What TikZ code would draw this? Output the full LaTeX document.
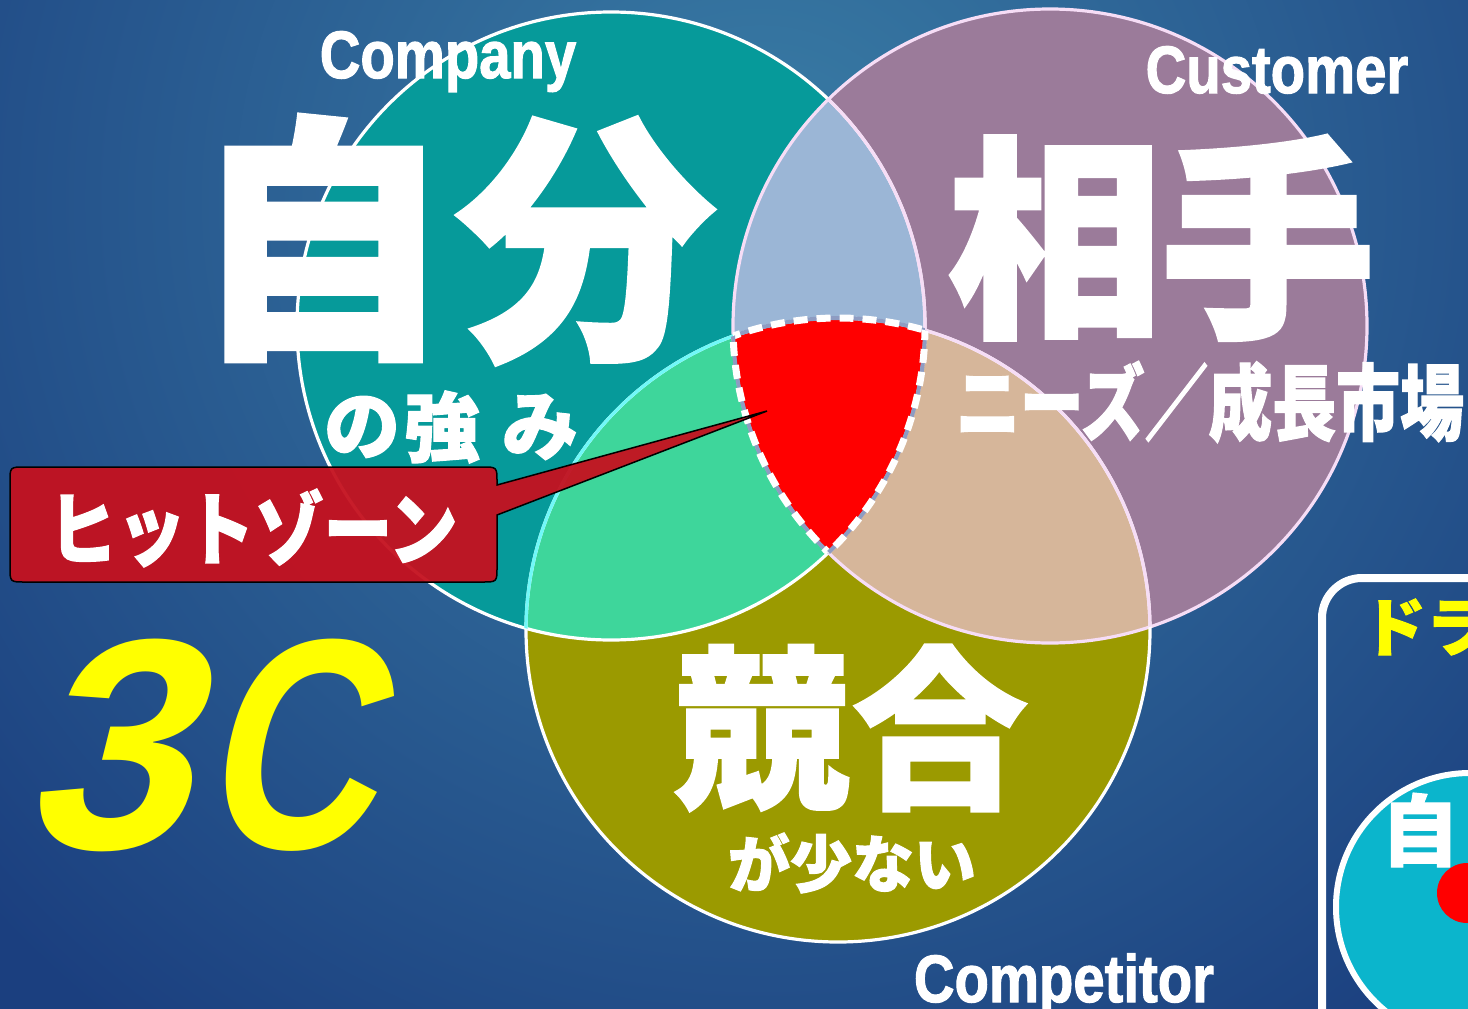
\documentclass[tikz,border=0pt]{standalone}
\usepackage{fontspec}
\setmainfont{Liberation Sans}
\newfontfamily\jp{Noto Sans CJK JP}[FakeBold=1.6]
\newfontfamily\heavysans{Liberation Sans}[FakeBold=1.8]
\newfontfamily\threecfont{Liberation Sans}[FakeSlant=0.25]
\definecolor{bgdark}{HTML}{1B3F7F}
\definecolor{bglight}{HTML}{3A7EA6}
\definecolor{cteal}{HTML}{069A9A}
\definecolor{cpurp}{HTML}{9B7B9A}
\definecolor{colive}{HTML}{9B9A00}
\definecolor{cblue}{HTML}{9BB6D6}
\definecolor{cgreen}{HTML}{3ED69B}
\definecolor{ctan}{HTML}{D6B69A}
\definecolor{hitred}{HTML}{C5111F}
\definecolor{ccyan}{HTML}{0BB5CC}
\definecolor{cyanline}{HTML}{70F8F8}
\definecolor{pinkline}{HTML}{F6DDF6}
\definecolor{shadowline}{HTML}{8E9CC2}
\definecolor{yel}{HTML}{FFFF00}
\begin{document}
\begin{tikzpicture}[x=1pt,y=-1pt,
  jptext/.style={text=white, inner sep=0pt},
  lattext/.style={text=white, inner sep=0pt, anchor=base, font=\heavysans\fontsize{67}{67}\selectfont\bfseries},
  ring/.style={line width=3.2pt},
  hitbase/.style={draw=shadowline, line width=4pt},
  hitedge/.style={draw=white, line width=7pt, dash pattern=on 14pt off 9pt},
  ]
\useasboundingbox (0,0) rectangle (1468,1009);
\clip (0,0) rectangle (1468,1009);
% background
\fill[bgdark] (0,0) rectangle (1468,1009);
\shade[inner color=bglight, outer color=bgdark] (760,200) circle[radius=1050];

\def\compC{(611,326) circle[radius=314]}
\def\custC{(1050,326) circle[radius=317]}
\def\compeC{(838,630) circle[radius=312]}

% circle fills
\fill[cteal] \compC;
\fill[cpurp] \custC;
\fill[colive] \compeC;
\begin{scope}
  \clip \compC;
  \fill[cblue] \custC;
  \fill[cgreen] \compeC;
\end{scope}
\begin{scope}
  \clip \custC;
  \fill[ctan] \compeC;
\end{scope}
\begin{scope}
  \clip \compC; \clip \custC;
  \fill[red] \compeC;
\end{scope}

% outlines
\draw[ring, white] \compC;
\draw[ring, pinkline] \custC;
\draw[ring, white] \compeC;
\begin{scope}
  \clip \compC;
  \draw[ring, cyanline] \compeC;
\end{scope}
\begin{scope}
  \clip \custC;
  \draw[ring, pinkline] \compeC;
  \draw[ring, pinkline] \compC;
\end{scope}

% hit zone border
\begin{scope}
  \clip \compC; \clip \custC;
  \draw[hitbase] \compeC;
  \draw[hitedge] \compeC;
\end{scope}
\begin{scope}
  \clip \compC; \clip \compeC;
  \draw[hitbase] \custC;
  \draw[hitedge] \custC;
\end{scope}
\begin{scope}
  \clip \custC; \clip \compeC;
  \draw[hitbase] \compC;
  \draw[hitedge] \compC;
\end{scope}

% big labels
\node[jptext, font=\jp\bfseries\fontsize{260}{260}\selectfont] (ji) at (322,238) {自};
\node[jptext, font=\jp\bfseries\fontsize{260}{260}\selectfont] (bun) at (586,241) {分};
\node[jptext, font=\jp\bfseries\fontsize{215}{215}\selectfont] (ai) at (1055,238) {相};
\node[jptext, font=\jp\bfseries\fontsize{215}{215}\selectfont] (te) at (1268,238) {手};
\node[jptext, font=\jp\bfseries\fontsize{175}{175}\selectfont] (kyo) at (762,728) {競};
\node[jptext, font=\jp\bfseries\fontsize{175}{175}\selectfont] (go) at (940,728) {合};

\node[jptext, font=\jp\bfseries\fontsize{76}{76}\selectfont] (no) at (362,427) {の};
\node[jptext, font=\jp\bfseries\fontsize{76}{76}\selectfont] (tsuyo) at (442,427) {強};
\node[jptext, font=\jp\bfseries\fontsize{76}{76}\selectfont] (mi) at (540,427) {み};
\node[jptext, font=\jp\bfseries\fontsize{83}{83}\selectfont] (needs) at (1210,402) {\scalebox{0.77}[1]{ニーズ／成長市場}};
\node[jptext, font=\jp\bfseries\fontsize{62}{62}\selectfont] (sukunai) at (852,863) {が少ない};

\node[lattext] (company) at (448,78) {\scalebox{0.84}[1]{Company}};
\node[lattext] (customer) at (1277,93) {\scalebox{0.84}[1]{Customer}};
\node[lattext] (competitor) at (1064,1002) {\scalebox{0.84}[1]{Competitor}};

% 3C
\node[text=yel, inner sep=0pt, anchor=base, font=\threecfont\fontsize{300}{300}\selectfont\bfseries] (three) at (104,848) {3};
\node[text=yel, inner sep=0pt, anchor=base, font=\threecfont\fontsize{300}{300}\selectfont\bfseries] (cee) at (286,848) {\scalebox{0.8}[1]{C}};

% hit zone callout
\coordinate (tip) at (767,411);
\path[fill=hitred, fill opacity=0.95, draw=black, line width=1.5pt]
  (497,485) -- (tip) -- (497,515) -- (497,567) .. controls (497,582) .. (482,582)
  -- (25,582) .. controls (10,582) .. (10,567) -- (10,482) .. controls (10,467) .. (25,467)
  -- (482,467) .. controls (497,467) .. (497,482) -- cycle;
\node[jptext, font=\jp\bfseries\fontsize{80}{80}\selectfont] (hit) at (253,528) {\scalebox{0.86}[1]{ヒットゾーン}};

% right panel
\draw[white, line width=8pt, rounded corners=40pt] (1322,578) rectangle (1560,1100);
\node[text=yel, inner sep=0pt, anchor=west, font=\jp\bfseries\fontsize{64}{64}\selectfont] (dora) at (1362,627) {ドラ};
\fill[ccyan, draw=white, line width=6pt] (1470,907) circle[radius=134];
\node[jptext, font=\jp\bfseries\fontsize{78}{78}\selectfont] (ji2) at (1420,830) {自};
\fill[red] (1467,893) circle[radius=30];
\end{tikzpicture}
\end{document}
